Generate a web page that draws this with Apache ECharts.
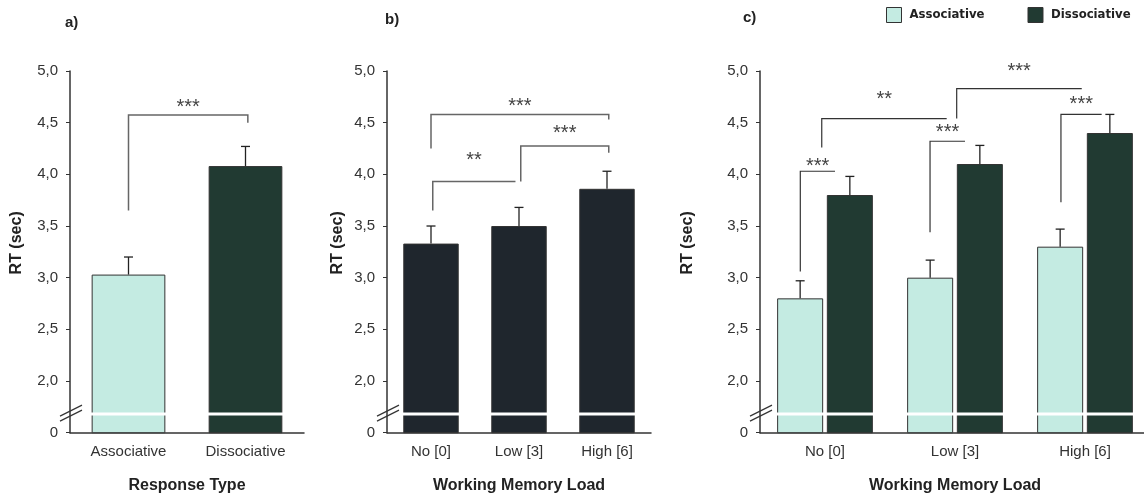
<!DOCTYPE html>
<html><head><meta charset="utf-8">
<script src="https://cdn.jsdelivr.net/npm/echarts@6/dist/echarts.min.js"></script>
<style>html,body{margin:0;padding:0;background:#fff}#c{width:1144px;height:494px}</style>
</head><body><div id="c"></div>
<script>
// ---------- data ----------
const yTicks = [1.5, 2.0, 2.5, 3.0, 3.5, 4.0, 4.5, 5.0];
const yTickLabels = ['0', '2,0', '2,5', '3,0', '3,5', '4,0', '4,5', '5,0'];
const breakValue = 1.68;

const catsA = ['Associative', 'Dissociative'];
const meanA = [3.03, 4.08];
const errA = [0.17, 0.19];

const catsB = ['No [0]', 'Low [3]', 'High [6]'];
const meanB = [3.33, 3.50, 3.86];
const errB = [0.17, 0.18, 0.17];

const catsC = ['No [0]', 'Low [3]', 'High [6]'];
const assocC = [2.80, 3.00, 3.30];
const assocErrC = [0.17, 0.17, 0.17];
const dissocC = [3.80, 4.10, 4.40];
const dissocErrC = [0.18, 0.18, 0.18];

// brackets: [xStart, xEnd, leftLegBottom, top, rightLegBottom|null, label, labelValue]
const bracketsA = [[0, 1.02, 3.65, 4.575, 4.50, '***', 4.69]];
const bracketsB = [
  [0.02, 0.96, 3.65, 3.93, null, '**', 4.17],
  [1.02, 2.02, 3.93, 4.275, 4.21, '***', 4.43],
  [0.00, 2.02, 4.25, 4.58, 4.53, '***', 4.70]
];
const bracketsC = [
  [-0.19, 0.077, 3.06, 4.03, null, '***', 4.11],
  [0.808, 1.077, 3.44, 4.32, null, '***', 4.44],
  [1.815, 2.128, 3.73, 4.58, null, '***', 4.71],
  [-0.025, 0.936, 4.26, 4.54, null, '**', 4.76],
  [1.013, 1.975, 4.54, 4.83, null, '***', 5.03]
];

// ---------- styles ----------
const COL_ASSOC = '#c4ebe2';
const COL_DISSOC = '#213a32';
const COL_B = '#1f262d';
const FONT = '"Liberation Sans", Arial, sans-serif';

function tickLabel(v) {
  for (let i = 0; i < yTicks.length; i++) if (Math.abs(yTicks[i] - v) < 1e-6) return yTickLabels[i];
  return '';
}

function errorRenderer(bwFrac, gapFrac, slot, nSlots) {
  return function (params, api) {
    const base = api.coord([api.value(0), api.value(1)]);
    const top = api.coord([api.value(0), api.value(1) + api.value(2)]);
    const band = api.size([1, 0])[0];
    const bw = band * bwFrac;
    const groupW = nSlots * bw + (nSlots - 1) * bw * gapFrac;
    const x = base[0] - groupW / 2 + slot * bw * (1 + gapFrac) + bw / 2;
    const st = { stroke: '#222', lineWidth: 1.3 };
    return { type: 'group', children: [
      { type: 'line', shape: { x1: x, y1: base[1], x2: x, y2: top[1] }, style: st },
      { type: 'line', shape: { x1: x - 4.5, y1: top[1], x2: x + 4.5, y2: top[1] }, style: st }
    ] };
  };
}

function bracketRenderer(list, color, width) {
  return function (params, api) {
    const b = list[params.dataIndex];
    const pts = [api.coord([b[0], b[2]]), api.coord([b[0], b[3]]), api.coord([b[1], b[3]])];
    if (b[4] != null) pts.push(api.coord([b[1], b[4]]));
    const lbl = api.coord([(b[0] + b[1]) / 2, b[6]]);
    return { type: 'group', children: [
      { type: 'polyline', shape: { points: pts }, style: { stroke: color, lineWidth: width, fill: null } },
      { type: 'text', x: lbl[0], y: lbl[1] + 4, style: { text: b[5], fill: '#444', fontSize: 20, fontFamily: FONT, align: 'center', verticalAlign: 'middle' } }
    ] };
  };
}

function breakRenderer(params, api) {
  const cs = params.coordSys;
  const p = api.coord([api.value(0), api.value(1)]);
  const ax = cs.x, y = p[1];
  const right = cs.x + cs.width;
  const st = { stroke: '#333', lineWidth: 1.2 };
  return { type: 'group', children: [
    { type: 'line', shape: { x1: ax + 2, y1: y, x2: right, y2: y }, style: { stroke: '#fff', lineWidth: 3 } },
    { type: 'line', shape: { x1: ax - 10, y1: y + 2, x2: ax + 12, y2: y - 9 }, style: st },
    { type: 'line', shape: { x1: ax - 10, y1: y + 7, x2: ax + 12, y2: y - 4 }, style: st }
  ] };
}

const grids = [
  { left: 70, top: 71, width: 234, height: 361.7, outerBoundsMode: 'none' },
  { left: 387, top: 71, width: 264, height: 361.7, outerBoundsMode: 'none' },
  { left: 760, top: 71, width: 390, height: 361.7, outerBoundsMode: 'none' }
];

function catAxis(gi, cats, name) {
  return {
    type: 'category', gridIndex: gi, data: cats,
    axisLine: { onZero: false, lineStyle: { color: '#333', width: 1.5 } },
    axisTick: { show: false },
    axisLabel: { color: '#333', fontSize: 15, fontFamily: FONT, margin: 12 },
    name: name, nameLocation: 'middle', nameGap: 45,
    nameTextStyle: { color: '#222', fontSize: 16, fontWeight: 'bold', fontFamily: FONT }
  };
}
function hiddenX(gi, n) {
  return { type: 'value', gridIndex: gi, min: -0.5, max: n - 0.5, show: false };
}
function valAxis(gi, gap) {
  return {
    type: 'value', gridIndex: gi, min: 1.5, max: 5, interval: 0.5,
    axisLine: { show: true, onZero: false, lineStyle: { color: '#333', width: 1.5 } },
    axisTick: { show: true, length: 4, lineStyle: { color: '#333' } },
    axisLabel: { color: '#333', fontSize: 15, fontFamily: FONT, margin: 12, formatter: tickLabel },
    splitLine: { show: false },
    name: 'RT (sec)', nameLocation: 'middle', nameGap: gap,
    nameTextStyle: { color: '#222', fontSize: 16, fontWeight: 'bold', fontFamily: FONT, padding: [0, 0, 0, 18] }
  };
}

const barBorder = { borderColor: '#333', borderWidth: 1 };
const titleStyle = { fontSize: 15, fontWeight: 'bold', color: '#222', fontFamily: FONT };

const option = {
  animation: false,
  backgroundColor: '#fff',
  title: [
    { text: 'a)', left: 65, top: 15, padding: 0, textStyle: titleStyle },
    { text: 'b)', left: 385, top: 12, padding: 0, textStyle: titleStyle },
    { text: 'c)', left: 743, top: 10, padding: 0, textStyle: titleStyle }
  ],
  legend: {
    data: ['Associative', 'Dissociative'], left: 886, top: 7, width: 300, padding: 0,
    itemWidth: 15, itemHeight: 15, itemGap: 43, icon: 'rect',
    itemStyle: { borderColor: '#333', borderWidth: 1 },
    textStyle: { color: '#222', fontSize: 13, fontWeight: 'bold', fontFamily: '"DejaVu Sans Condensed", "Liberation Sans Narrow", sans-serif', padding: [0, 0, 0, 3] }
  },
  grid: grids,
  xAxis: [
    catAxis(0, catsA, 'Response Type'), catAxis(1, catsB, 'Working Memory Load'), catAxis(2, catsC, 'Working Memory Load'),
    hiddenX(0, catsA.length), hiddenX(1, catsB.length), hiddenX(2, catsC.length)
  ],
  yAxis: [valAxis(0, 45), valAxis(1, 41), valAxis(2, 64)],
  series: [
    { name: 'RespType', type: 'bar', xAxisIndex: 0, yAxisIndex: 0, barWidth: '63%',
      data: meanA.map((v, i) => ({ value: v, itemStyle: { color: i === 0 ? COL_ASSOC : COL_DISSOC } })),
      itemStyle: barBorder },
    { name: 'Load', type: 'bar', xAxisIndex: 1, yAxisIndex: 1, barWidth: '63%',
      data: meanB, itemStyle: Object.assign({ color: COL_B }, barBorder) },
    { name: 'Associative', type: 'bar', xAxisIndex: 2, yAxisIndex: 2, barWidth: '35.4%', barGap: '8%',
      data: assocC, itemStyle: Object.assign({ color: COL_ASSOC }, barBorder) },
    { name: 'Dissociative', type: 'bar', xAxisIndex: 2, yAxisIndex: 2, barWidth: '35.4%', barGap: '8%',
      data: dissocC, itemStyle: Object.assign({ color: COL_DISSOC }, barBorder) },
    // error bars
    { type: 'custom', xAxisIndex: 0, yAxisIndex: 0, z: 4, renderItem: errorRenderer(0.63, 0, 0, 1),
      data: meanA.map((v, i) => [i, v, errA[i]]) },
    { type: 'custom', xAxisIndex: 1, yAxisIndex: 1, z: 4, renderItem: errorRenderer(0.63, 0, 0, 1),
      data: meanB.map((v, i) => [i, v, errB[i]]) },
    { type: 'custom', xAxisIndex: 2, yAxisIndex: 2, z: 4, renderItem: errorRenderer(0.354, 0.08, 0, 2),
      data: assocC.map((v, i) => [i, v, assocErrC[i]]) },
    { type: 'custom', xAxisIndex: 2, yAxisIndex: 2, z: 4, renderItem: errorRenderer(0.354, 0.08, 1, 2),
      data: dissocC.map((v, i) => [i, v, dissocErrC[i]]) },
    // axis breaks
    { type: 'custom', xAxisIndex: 3, yAxisIndex: 0, z: 6, renderItem: breakRenderer, data: [[-0.5, breakValue]] },
    { type: 'custom', xAxisIndex: 4, yAxisIndex: 1, z: 6, renderItem: breakRenderer, data: [[-0.5, breakValue]] },
    { type: 'custom', xAxisIndex: 5, yAxisIndex: 2, z: 6, renderItem: breakRenderer, data: [[-0.5, breakValue]] },
    // significance brackets
    { type: 'custom', xAxisIndex: 3, yAxisIndex: 0, z: 5, renderItem: bracketRenderer(bracketsA, '#666', 1.5),
      data: bracketsA.map(b => [b[0], b[3]]) },
    { type: 'custom', xAxisIndex: 4, yAxisIndex: 1, z: 5, renderItem: bracketRenderer(bracketsB, '#666', 1.5),
      data: bracketsB.map(b => [b[0], b[3]]) },
    { type: 'custom', xAxisIndex: 5, yAxisIndex: 2, z: 5, renderItem: bracketRenderer(bracketsC, '#333', 1.2),
      data: bracketsC.map(b => [b[0], b[3]]) }
  ]
};

const chart = echarts.init(document.getElementById('c'), null, { renderer: 'canvas' });
chart.setOption(option);
</script>
</body></html>
